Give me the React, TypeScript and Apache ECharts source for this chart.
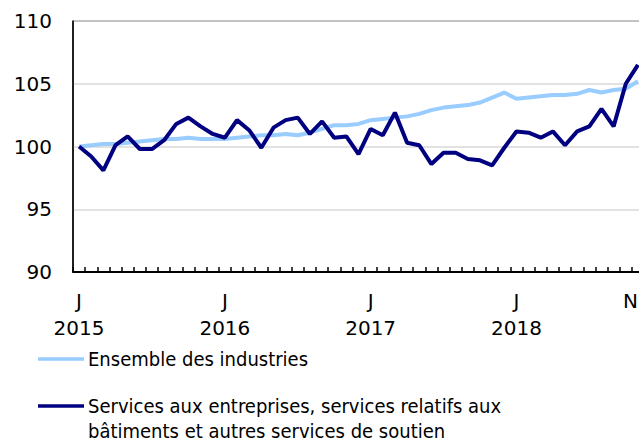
import React, { useEffect, useRef } from "react";
import * as echarts from "echarts";

const months: string[] = [
  "2015-01","2015-02","2015-03","2015-04","2015-05","2015-06","2015-07","2015-08","2015-09","2015-10","2015-11","2015-12",
  "2016-01","2016-02","2016-03","2016-04","2016-05","2016-06","2016-07","2016-08","2016-09","2016-10","2016-11","2016-12",
  "2017-01","2017-02","2017-03","2017-04","2017-05","2017-06","2017-07","2017-08","2017-09","2017-10","2017-11","2017-12",
  "2018-01","2018-02","2018-03","2018-04","2018-05","2018-06","2018-07","2018-08","2018-09","2018-10","2018-11",
];

const tickLabels: Record<string, string> = {
  "2015-01": "J\n2015",
  "2016-01": "J\n2016",
  "2017-01": "J\n2017",
  "2018-01": "J\n2018",
  "2018-11": "N",
};

const allIndustries: number[] = [
  100.0, 100.1, 100.2, 100.2, 100.3, 100.4, 100.5, 100.6, 100.6, 100.7, 100.6, 100.6,
  100.6, 100.7, 100.8, 100.9, 100.9, 101.0, 100.9, 101.1, 101.4, 101.7, 101.7, 101.8,
  102.1, 102.2, 102.3, 102.4, 102.6, 102.9, 103.1, 103.2, 103.3, 103.5, 103.9, 104.3,
  103.8, 103.9, 104.0, 104.1, 104.1, 104.2, 104.5, 104.3, 104.5, 104.6, 105.2,
];

const businessServices: number[] = [
  100.0, 99.2, 98.1, 100.1, 100.8, 99.8, 99.8, 100.5, 101.8, 102.3, 101.6, 101.0,
  100.7, 102.1, 101.3, 99.9, 101.5, 102.1, 102.3, 101.0, 102.0, 100.7, 100.8, 99.4,
  101.4, 100.9, 102.7, 100.3, 100.1, 98.6, 99.5, 99.5, 99.0, 98.9, 98.5, 99.9,
  101.2, 101.1, 100.7, 101.2, 100.1, 101.2, 101.6, 103.0, 101.6, 105.0, 106.5,
];

const yTicks = { min: 90, max: 110, interval: 5 };

const seriesNames = [
  "Ensemble des industries",
  "Services aux entreprises, services relatifs aux bâtiments et autres services de soutien",
];
const legendLines = [
  ["Ensemble des industries"],
  ["Services aux entreprises, services relatifs aux", "bâtiments et autres services de soutien"],
];
const colors = ["#99CCFF", "#000080"];

const FONT = "'DejaVu Sans', Verdana, sans-serif";
const LEGEND_FONT = "'DejaVu Sans Condensed', 'DejaVu Sans', sans-serif";

export default function App() {
  const ref = useRef<HTMLDivElement>(null);
  useEffect(() => {
    document.body.style.margin = "0";
    const chart = echarts.init(ref.current!, null, { renderer: "svg" });
    chart.setOption({
      animation: false,
      grid: {
        left: 73, top: 21, width: 571, height: 251,
        show: true, borderColor: "#000", borderWidth: 1,
        containLabel: false, outerBoundsMode: "none",
      },
      xAxis: {
        type: "category",
        data: months,
        boundaryGap: true,
        axisLine: { lineStyle: { color: "#000", width: 2 } },
        axisTick: { show: true, inside: true, length: 5, interval: 0, alignWithLabel: false, lineStyle: { color: "#000", width: 1.5 } },
        axisLabel: {
          interval: (i: number, v: string) => v in tickLabels,
          formatter: (v: string) => tickLabels[v] || "",
          fontFamily: FONT,
          fontSize: 20,
          lineHeight: 27,
          color: "#000",
          margin: 15,
          hideOverlap: false,
          showMaxLabel: true,
          alignMaxLabel: "right",
        },
        splitLine: { show: false },
      },
      yAxis: {
        type: "value",
        min: yTicks.min,
        max: yTicks.max,
        interval: yTicks.interval,
        axisLine: { show: true, lineStyle: { color: "#000", width: 1.5 } },
        axisTick: { show: false },
        axisLabel: { fontFamily: FONT, fontSize: 20, color: "#000", margin: 21 },
        splitLine: { show: true, lineStyle: { color: "#d9d9d9", width: 1.5 } },
      },
      series: [
        {
          name: seriesNames[0],
          type: "line",
          data: allIndustries,
          symbol: "none",
          lineStyle: { color: colors[0], width: 4 },
          itemStyle: { color: colors[0] },
          z: 2,
        },
        {
          name: seriesNames[1],
          type: "line",
          data: businessServices,
          symbol: "none",
          lineStyle: { color: colors[1], width: 4 },
          itemStyle: { color: colors[1] },
          z: 3,
        },
      ],
      graphic: [
        { type: "line", shape: { x1: 38, y1: 359, x2: 84, y2: 359 }, style: { stroke: colors[0], lineWidth: 3.5 } },
        { type: "text", x: 88, y: 359, style: { text: legendLines[0][0], font: `20px ${LEGEND_FONT}`, fill: "#000", textVerticalAlign: "middle" } },
        { type: "line", shape: { x1: 38, y1: 406, x2: 84, y2: 406 }, style: { stroke: colors[1], lineWidth: 3.5 } },
        { type: "text", x: 88, y: 406, style: { text: legendLines[1][0], font: `20px ${LEGEND_FONT}`, fill: "#000", textVerticalAlign: "middle" } },
        { type: "text", x: 88, y: 431, style: { text: legendLines[1][1], font: `20px ${LEGEND_FONT}`, fill: "#000", textVerticalAlign: "middle" } },
      ],
    });
    return () => chart.dispose();
  }, []);
  return <div ref={ref} style={{ width: 639, height: 443 }} />;
}
